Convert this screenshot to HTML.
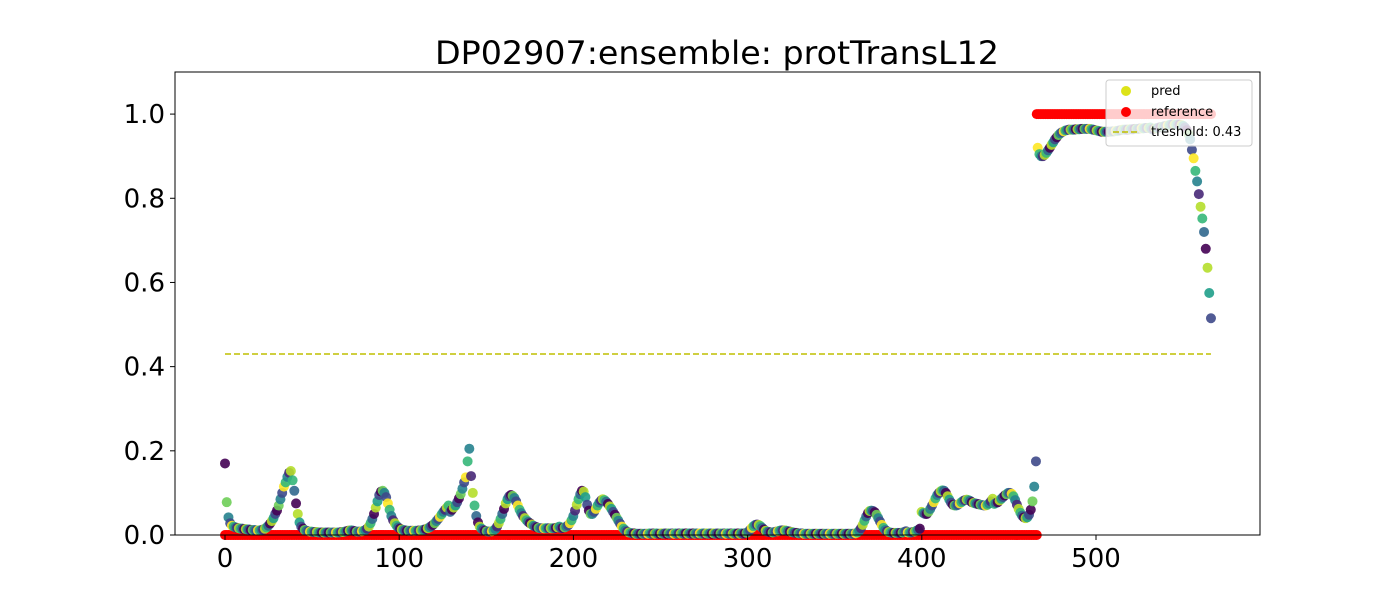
<!DOCTYPE html>
<html><head><meta charset="utf-8"><style>
body{margin:0;background:#fff;}
svg{display:block;font-family:"DejaVu Sans","Liberation Sans",sans-serif;}
</style></head><body>
<svg id="chart" width="1400" height="600"></svg>
<script>
const predValues = [
.17,.078,.042,.028,.022,.02,.018,.017,.016,.015,
.015,.014,.014,.013,.013,.012,.012,.012,.011,.011,
.011,.012,.013,.015,.018,.022,.027,.033,.04,.05,
.058,.07,.085,.1,.115,.125,.138,.148,.152,.13,
.105,.075,.05,.03,.02,.015,.012,.01,.009,.008,
.008,.007,.007,.007,.006,.006,.006,.006,.006,.006,
.006,.006,.006,.006,.006,.006,.006,.007,.007,.008,
.009,.01,.011,.011,.01,.009,.008,.008,.008,.009,
.01,.012,.015,.02,.028,.038,.05,.065,.08,.095,
.103,.105,.1,.09,.075,.06,.045,.035,.028,.022,
.018,.015,.013,.012,.011,.01,.01,.01,.01,.01,
.01,.01,.011,.011,.012,.013,.014,.016,.018,.021,
.024,.028,.033,.038,.043,.049,.055,.06,.065,.07,
.055,.06,.065,.07,.078,.087,.097,.11,.125,.137,
.175,.205,.14,.1,.07,.045,.03,.02,.015,.012,
.01,.009,.008,.008,.009,.011,.014,.02,.028,.038,
.05,.062,.075,.085,.092,.095,.093,.088,.08,.07,
.06,.052,.045,.04,.035,.031,.028,.025,.022,.02,
.018,.017,.016,.016,.016,.016,.016,.016,.016,.016,.016,.017,.018,.02,
.016,.017,.018,.02,.023,.028,.035,.045,.058,.072,
.085,.097,.105,.103,.09,.072,.058,.05,.05,.055,
.062,.07,.077,.082,.085,.083,.079,.074,.068,.062,
.055,.048,.041,.034,.027,.02,.015,.011,.008,.006,
.005,.004,.004,.003,.003,.003,.003,.003,.003,.003,
.003,.004,.003,.004,.003,.004,.003,
.003,.004,.003,.004,.003,.004,.003,.004,.003,.004,
.003,.004,.003,.004,.003,.004,.003,.004,.003,.004,
.003,.004,.003,.004,.003,.004,.003,.004,.003,.004,
.003,.004,.003,.004,.003,.004,.003,.004,.003,.004,
.003,.004,.003,.004,.003,.004,.003,.004,.003,.004,
.005,.008,.012,.017,.021,.024,.025,.024,.021,.017,
.013,.01,.008,.007,.006,.006,.007,.008,.009,.01,
.011,.011,.011,.01,.009,.008,.007,.006,.005,.005,
.004,.004,.004,.003,.003,.003,.003,.003,.003,.003,
.003,.003,.003,.003,.003,.003,.003,.003,.003,.003,
.003,.003,.003,.003,.003,.003,.003,.003,.003,.003,.003,.003,.003,
.004,.006,.01,.016,.024,.034,.044,.052,.057,.058,
.057,.054,.048,.04,.032,.024,.017,.012,.009,.007,
.006,.005,.005,.005,.005,.005,.005,.006,.007,.009,
.006,.006,.006,.007,.008,.01,.012,.015,.055,.052,
.05,.05,.055,.062,.07,.078,.087,.095,.1,.104,
.106,.105,.1,.092,.084,.077,.072,.07,.07,.072,
.075,.078,.081,.083,.084,.083,.081,.078,.076,.075,
.074,.073,.072,.071,.07,.07,.072,.075,.08,.086,
.074,.076,.078,.082,.086,.09,.094,.097,.1,.1,
.098,.092,.083,.072,.062,.053,.046,.042,.04,.042,
.048,.06,.08,.115,.175,
.92,.905,.9,.9,.903,.908,.914,.92,.927,.933,
.94,.945,.95,.954,.957,.959,.961,.962,.963,.963,
.963,.963,.964,.964,.964,.965,.965,.965,.965,.965,
.965,.964,.963,.962,.961,.96,.959,.958,.958,.958,
.958,.958,.958,.959,.959,.96,.96,.961,.962,.963,
.963,.963,.963,.964,.964,.964,.965,.965,.965,.966,
.966,.966,.967,.967,.967,.968,
.964,.965,.966,.967,.968,.969,.97,.971,.972,.973,
.974,.975,.975,.975,.975,.975,.975,.974,.972,.968,
.962,.953,.94,.915,.895,.865,.84,.81,.78,.752,
.72,.68,.635,.575,.515
];
const refSegStart = [0, 466];
const refSegEnd = [466, 566];
const refSegValue = [0, 1];
const xTicks = [0,100,200,300,400,500];
const yTicks = [0,0.2,0.4,0.6,0.8,1.0];
const yTickLabels = ["0.0","0.2","0.4","0.6","0.8","1.0"];
const threshold = 0.43;

const NS="http://www.w3.org/2000/svg";
const svg=document.getElementById('chart');
const L=175,R=1260,T=72,B=535;
const xs=v=>225+v*1.742;
const ys=v=>B-(v/1.1)*(B-T);
function mk(tag,attrs,parent){const e=document.createElementNS(NS,tag);for(const k in attrs)e.setAttribute(k,attrs[k]);(parent||svg).appendChild(e);return e;}
const viridis=["#440154","#482878","#3e4989","#31688e","#26828e","#1f9e89","#35b779","#6ece58","#b5de2b","#fde725"];

const title=mk('text',{x:717,y:64,'text-anchor':'middle','font-size':32,fill:'#000',textLength:564,lengthAdjust:'spacingAndGlyphs'});


title.textContent='DP02907:ensemble: protTransL12';

const refG=mk('g',{});


for(let s=0;s<refSegStart.length;s++){
  for(let i=refSegStart[s];i<=refSegEnd[s];i++){
    const c=mk('circle',{cx:xs(i),cy:ys(refSegValue[s]),r:5,fill:'#ff0000'},refG);
    
    
  }
}
const predG=mk('g',{});


const predStep=566/(predValues.length-1);
predValues.forEach((v,i)=>{
  const c=mk('circle',{cx:xs(i*predStep),cy:ys(v),r:5,fill:viridis[(i*7+Math.floor(i/3))%10],'fill-opacity':0.9},predG);
  
  
});
const th=mk('line',{x1:xs(0),x2:xs(566),y1:ys(threshold),y2:ys(threshold),stroke:'#bfbf00','stroke-width':1.5,'stroke-dasharray':'6,3'});



const frame=mk('rect',{x:L,y:T,width:R-L,height:B-T,fill:'none',stroke:'#000','stroke-width':1});



xTicks.forEach(t=>{
  mk('line',{x1:xs(t),x2:xs(t),y1:B,y2:B+5,stroke:'#000'});
  const tx=mk('text',{x:xs(t),y:B+32,'text-anchor':'middle','font-size':26});
  
  
  tx.textContent=t;
});
yTicks.forEach((t,k)=>{
  mk('line',{x1:L-5,x2:L,y1:ys(t),y2:ys(t),stroke:'#000'});
  const tx=mk('text',{x:L-10,y:ys(t)+9,'text-anchor':'end','font-size':26});
  
  
  tx.textContent=yTickLabels[k];
});

const lg=mk('g',{});


mk('rect',{x:1106,y:80,width:146,height:66,rx:3,fill:'#fff','fill-opacity':0.8,stroke:'#ccc'},lg);
mk('circle',{cx:1126,cy:91,r:5,fill:'#dde318'},lg);
mk('circle',{cx:1126,cy:112,r:5,fill:'#ff0000'},lg);
mk('line',{x1:1113,x2:1139,y1:132,y2:132,stroke:'#bfbf00','stroke-width':1.5,'stroke-dasharray':'6,3'},lg);
[['pred',95],['reference',116],['treshold: 0.43',136]].forEach(([s,y])=>{
  const t=mk('text',{x:1151,y:y,'font-size':13},lg);
  
  
  t.textContent=s;
});
</script>
</body></html>
